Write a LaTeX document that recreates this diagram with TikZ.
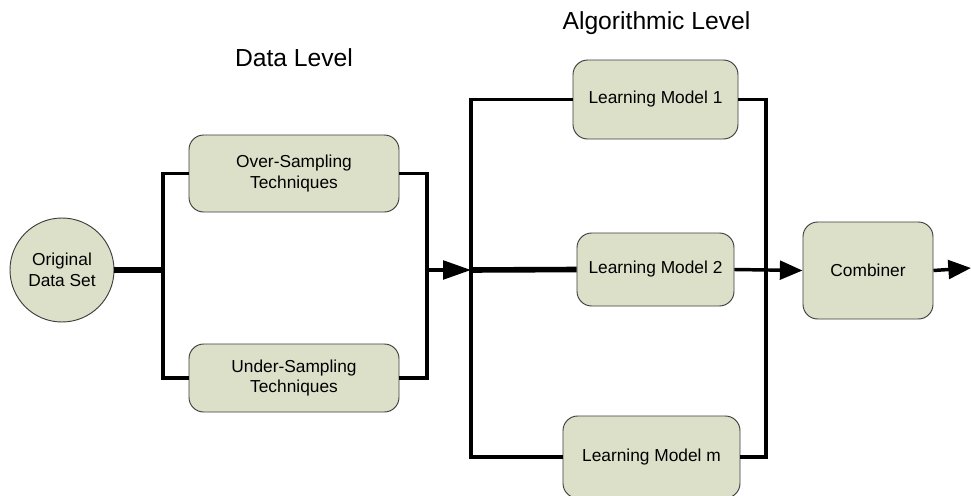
\documentclass[tikz,border=0pt]{standalone}
\usepackage{fontspec}
\setmainfont{Liberation Sans}
\usetikzlibrary{arrows.meta}
\definecolor{boxfill}{RGB}{221,224,201}
\definecolor{boxdraw}{RGB}{60,60,60}
\begin{document}
\begin{tikzpicture}[x=0.75pt,y=-0.75pt,
  box/.style={draw=boxdraw,line width=0.7pt,fill=boxfill,rounded corners=11pt,
    align=center,font=\fontsize{13}{15.5}\selectfont,inner sep=0pt},
  ttl/.style={font=\fontsize{18.5}{22}\selectfont},
  thin/.style={line width=2.6pt},
  thickln/.style={line width=4.2pt},
  bigarrow/.style={-{Triangle[length=21pt,width=14pt]}},
  smallarrow/.style={-{Triangle[length=17pt,width=14pt]}}]
\useasboundingbox (0,0) rectangle (971,496);
\node[ttl] (tdata) at (294,58) {Data Level};
\node[ttl] (talg) at (656.5,23) {Algorithmic Level};
\node[draw=boxdraw,line width=0.7pt,fill=boxfill,circle,minimum size=104pt*0.75,
  align=center,font=\fontsize{13}{15.5}\selectfont,inner sep=0pt] (orig) at (62,270) {Original\\Data Set};
\node[box,minimum width=157.5pt,minimum height=57.75pt] (over) at (294,173.5) {Over-Sampling\\Techniques};
\node[box,minimum width=157.5pt,minimum height=51pt] (under) at (294,378) {Under-Sampling\\Techniques};
\node[box,minimum width=123.75pt,minimum height=59.25pt] (lm1) at (655.5,99.5) {Learning Model 1};
\node[box,minimum width=117.75pt,minimum height=54.75pt] (lm2) at (655.5,269.5) {Learning Model 2};
\node[box,minimum width=132.75pt,minimum height=61.5pt] (lmm) at (651.5,457) {Learning Model m};
\node[box,minimum width=97.5pt,minimum height=72.75pt] (comb) at (868,270.5) {Combiner};
\coordinate (j1) at (163,270);
\coordinate (j2) at (427,270);
\coordinate (j3) at (471,270);
\coordinate (j4) at (766,270);
\coordinate (out) at (971,268);
\draw[thickln] (orig) -- (j1);
\draw[thin] (over.west) -| (j1) |- (under.west);
\draw[thin] (over.east) -| (j2) |- (under.east);
\draw[thin,bigarrow] (j2) -- (j3);
\draw[thin] (lm1.west) -| (j3) |- (lmm.west);
\draw[thickln] (j3) -- (lm2.west);
\draw[thin] (lm1.east) -| (j4) |- (lmm.east);
\draw[thin,smallarrow] (lm2.east) -- (comb.west);
\draw[thin,smallarrow] (comb.east) -- (out);
\end{tikzpicture}
\end{document}
